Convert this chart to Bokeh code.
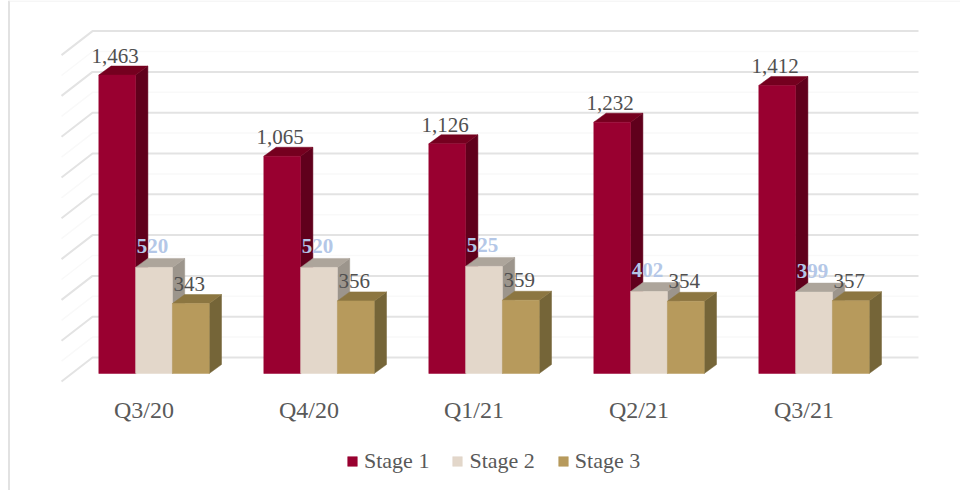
from bokeh.plotting import figure
from bokeh.models import Range1d, Legend, LegendItem, ColumnDataSource
from bokeh.core.properties import value
from bokeh.embed import file_html
from bokeh.resources import INLINE

quarters = ["Q3/20", "Q4/20", "Q1/21", "Q2/21", "Q3/21"]
stage_1 = [1463, 1065, 1126, 1232, 1412]
stage_2 = [520, 520, 525, 402, 399]
stage_3 = [343, 356, 359, 354, 357]
stages = ["Stage 1", "Stage 2", "Stage 3"]
ticks = [0, 200, 400, 600, 800, 1000, 1200, 1400, 1600]

W, H = 960, 490
PX = 165.0           # px per category
PY = 40.8 / 200      # px per value unit
x0 = 153.5           # frame px of first category centre
y0 = 373             # frame px of the value 0 at bar front

dx = lambda px: px / PX
dy = lambda px: px / PY

p = figure(width=W, height=H, output_backend="svg", toolbar_location=None,
           x_range=Range1d(-x0 / PX, (W - x0) / PX),
           y_range=Range1d(-(H - y0) / PY, y0 / PY),
           min_border=0, outline_line_color=None, background_fill_color="white")
p.axis.visible = False
p.grid.visible = False

FONT = "Liberation Serif"
DARK = "#505050"

# chart-area edges
bx = p.x_range.start + dx(8.5)
p.segment([bx], [p.y_range.start], [bx], [p.y_range.end], line_color="#d9d9d9", line_width=1.5)
p.segment([bx], [p.y_range.end - dy(0.5)], [p.x_range.end], [p.y_range.end - dy(0.5)],
          line_color="#ededed", line_width=1)

# walls: gridlines on side wall and back wall
xl, xb, xr = dx(61 - 153.5), dx(92 - 153.5), dx(918 - 153.5)
yf, yb = dy(-8), dy(16)
minor = [t + 100 for t in ticks[:-1]]
p.multi_line([[xl, xb, xr] for _ in minor], [[t + yf, t + yb, t + yb] for t in minor],
             line_color="#f9f9f9", line_width=1.5)
p.multi_line([[xl, xb, xr] for _ in ticks], [[t + yf, t + yb, t + yb] for t in ticks],
             line_color="#e3e3e3", line_width=2)

bw = dx(36.8)
ox, oy = dx(12.3), dy(9)
series = [stage_1, stage_2, stage_3]
front = ["#990030", "#e3d7ca", "#b79a5c"]
side = ["#60001c", "#9c958c", "#756538"]
top = ["#75001f", "#ada59b", "#8c7641"]

fronts = []
for g in range(len(quarters)):
    for s, vals in enumerate(series):
        l = g + (s - 1.5) * bw
        r = l + bw
        v = vals[g]
        p.patch([r, r + ox, r + ox, r], [0, oy, v + oy, v], fill_color=side[s], line_color=side[s], line_width=0.5)
        p.patch([l, l + ox, r + ox, r], [v, v + oy, v + oy, v], fill_color=top[s], line_color=top[s], line_width=0.5)
        q = p.quad(left=[l], right=[r], bottom=[0], top=[v], fill_color=front[s], line_color=front[s], line_width=0.5)
        if g == 0:
            fronts.append(q)

# data labels
lab_off = [dy(19), dy(21), dy(20)]
lab_col = [DARK, "#b4c7e7", DARK]
lab_shift = [-dx(2), -dx(1.5), -dx(1.5)]
for s, vals in enumerate(series):
    xs = [g + (s - 1) * bw + lab_shift[s] for g in range(len(quarters))]
    ys = [v + lab_off[s] for v in vals]
    txt = [f"{v:,}" for v in vals]
    src = ColumnDataSource(dict(x=xs, y=ys, t=txt))
    p.text("x", "y", text="t", source=src, text_font=value(FONT), text_font_size="21px",
           text_color=lab_col[s], text_align="center", text_baseline="middle",
           text_font_style="bold" if s == 1 else "normal")

# category labels
src = ColumnDataSource(dict(x=[g + dx(-10) for g in range(len(quarters))],
                            y=[dy(-36.5)] * len(quarters), t=quarters))
p.text("x", "y", text="t", source=src, text_font=value(FONT), text_font_size="24px",
       text_color="#595959", text_align="center", text_baseline="middle")

legend = Legend(items=[LegendItem(label=n, renderers=[r]) for n, r in zip(stages, fronts)],
                orientation="horizontal", location=(346, 16),
                background_fill_alpha=0, border_line_color=None, padding=0, margin=0,
                glyph_width=12, glyph_height=12, label_standoff=6, spacing=22,
                label_text_font=FONT, label_text_font_size="22px", label_text_color="#595959")
p.add_layout(legend, "center")

open("out.html", "w").write(file_html(p, INLINE))
